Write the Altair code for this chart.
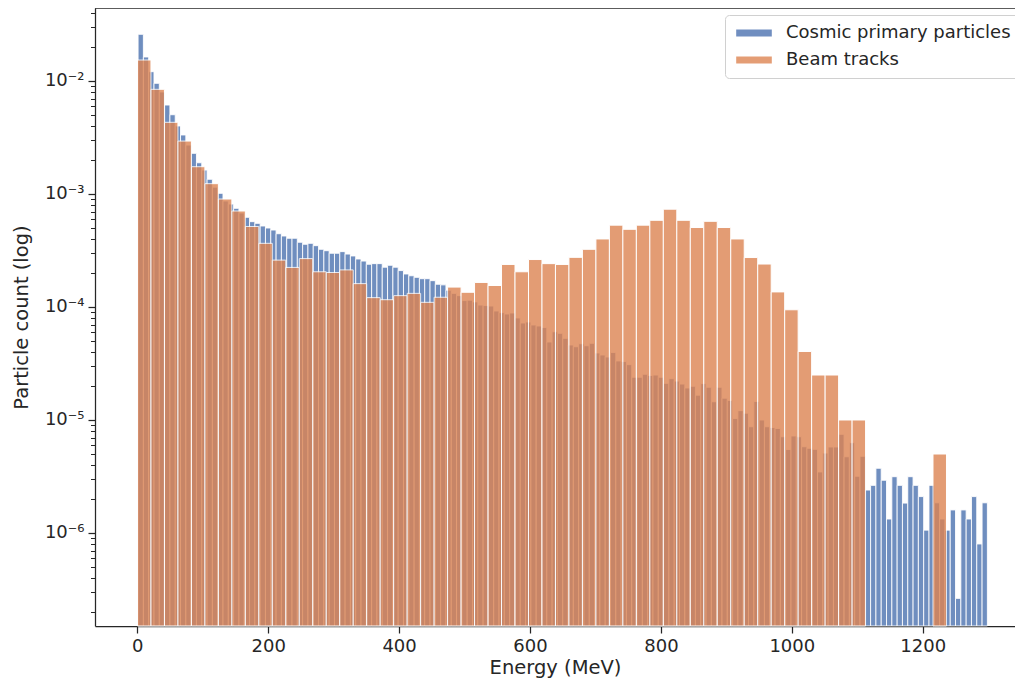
import altair as alt
import pandas as pd

SERIES = ["Cosmic primary particles", "Beam tracks"]
COLORS = ["#4C72B0", "#DD8452"]

# Histogram bins (MeV)
BLUE_START = 1.2
BLUE_WIDTH = 8.11
ORANGE_START = 0.3
ORANGE_WIDTH = 20.6

# Density per bin, cosmic primary particles (160 bins)
cosmic_density = [
    0.0259, 0.01631, 0.01209, 0.00954, 0.00799, 0.00613, 0.00503, 0.0040, 0.00333, 0.00271,
    0.00229, 0.00189, 0.00163, 0.00135, 0.00115, 0.001014, 8.67e-4, 8.15e-4, 7.47e-4, 6.79e-4,
    6.22e-4, 5.69e-4, 5.50e-4, 5.21e-4, 5.00e-4, 4.80e-4, 4.45e-4, 4.25e-4, 4.06e-4, 4.06e-4,
    3.74e-4, 3.59e-4, 3.66e-4, 3.49e-4, 3.24e-4, 3.15e-4, 2.99e-4, 2.99e-4, 3.09e-4, 2.94e-4,
    2.83e-4, 2.66e-4, 2.55e-4, 2.39e-4, 2.42e-4, 2.42e-4, 2.25e-4, 2.34e-4, 2.25e-4, 2.10e-4,
    1.96e-4, 1.89e-4, 1.83e-4, 1.78e-4, 1.78e-4, 1.71e-4, 1.59e-4, 1.57e-4, 1.41e-4, 1.32e-4,
    1.26e-4, 1.14e-4, 1.15e-4, 1.11e-4, 1.04e-4, 1.03e-4, 1.02e-4, 9.22e-5, 8.91e-5, 8.67e-5,
    8.85e-5, 8.00e-5, 7.22e-5, 7.37e-5, 6.93e-5, 6.79e-5, 6.58e-5, 4.90e-5, 6.04e-5, 5.85e-5,
    5.28e-5, 4.61e-5, 4.45e-5, 4.73e-5, 4.54e-5, 4.77e-5, 3.92e-5, 3.76e-5, 3.61e-5, 3.96e-5,
    3.33e-5, 3.29e-5, 3.09e-5, 2.39e-5, 2.39e-5, 2.54e-5, 2.48e-5, 2.50e-5, 2.39e-5, 2.11e-5,
    2.32e-5, 2.21e-5, 2.08e-5, 1.92e-5, 1.99e-5, 1.66e-5, 2.10e-5, 1.95e-5, 1.45e-5, 1.95e-5,
    1.56e-5, 1.49e-5, 1.03e-5, 1.21e-5, 1.15e-5, 8.72e-6, 1.46e-5, 1.00e-5, 8.72e-6, 8.58e-6,
    8.41e-6, 7.11e-6, 5.48e-6, 7.22e-6, 7.11e-6, 5.80e-6, 5.62e-6, 5.50e-6, 3.47e-6, 5.10e-6,
    5.77e-6, 5.77e-6, 7.47e-6, 4.73e-6, 6.30e-6, 3.18e-6, 4.77e-6, 2.40e-6, 2.64e-6, 3.74e-6,
    2.93e-6, 1.33e-6, 3.15e-6, 2.64e-6, 1.84e-6, 3.15e-6, 2.64e-6, 2.10e-6, 1.06e-6, 2.64e-6,
    1.85e-6, 1.33e-6, 1.06e-6, 1.60e-6, 2.64e-7, 1.60e-6, 1.33e-6, 2.10e-6, 8.0e-7, 1.85e-6,
]

# Density per bin, beam tracks (60 bins)
beam_density = [
    0.01534, 0.00844, 0.00431, 0.00294, 0.001744, 0.001234, 9.03e-4, 7.07e-4, 5.16e-4, 3.66e-4,
    2.60e-4, 2.24e-4, 2.68e-4, 2.05e-4, 2.02e-4, 2.13e-4, 1.61e-4, 1.21e-4, 1.16e-4, 1.26e-4,
    1.32e-4, 1.10e-4, 1.22e-4, 1.50e-4, 1.35e-4, 1.65e-4, 1.55e-4, 2.38e-4, 2.05e-4, 2.63e-4,
    2.42e-4, 2.38e-4, 2.75e-4, 3.24e-4, 4.00e-4, 5.30e-4, 4.87e-4, 5.30e-4, 5.85e-4, 7.34e-4,
    5.85e-4, 5.05e-4, 5.73e-4, 5.05e-4, 4.00e-4, 2.74e-4, 2.40e-4, 1.36e-4, 9.45e-5, 4.04e-5,
    2.50e-5, 2.50e-5, 1.00e-5, 1.00e-5, 0, 0, 0, 0, 0, 5.0e-6,
]

X_TICKS = [0, 200, 400, 600, 800, 1000, 1200]
Y_TICKS = [1e-6, 1e-5, 1e-4, 1e-3, 1e-2]
Y_TICK_LABELS = ["10⁻⁶", "10⁻⁵", "10⁻⁴", "10⁻³", "10⁻²"]
Y_MINOR = [m * 10.0 ** e for e in range(-7, -1) for m in range(2, 10)]


def bins(start, width, values, name):
    rows = []
    for i, v in enumerate(values):
        if v > 0:
            rows.append({"lo": start + i * width, "hi": start + (i + 1) * width,
                         "density": v, "series": name})
    return pd.DataFrame(rows)


df_cosmic = bins(BLUE_START, BLUE_WIDTH, cosmic_density, SERIES[0])
df_beam = bins(ORANGE_START, ORANGE_WIDTH, beam_density, SERIES[1])

W, H = 920, 618
FONT = "DejaVu Sans"
INK = "#262626"
ALPHA = 0.8

x_scale = alt.Scale(domain=[-64.6, 1341.0], nice=False, zero=False)
y_scale = alt.Scale(type="log", domain=[1.503e-7, 0.04426], nice=False)

x_axis = alt.Axis(values=X_TICKS, title="Energy (MeV)", format="d", grid=False,
                  tickSize=7, tickWidth=1.25, tickColor=INK, domainColor=INK,
                  domainWidth=1.25, labelFontSize=18, labelFont=FONT, labelColor=INK,
                  labelPadding=4, titleFontSize=19.5, titleFont=FONT, titleColor=INK,
                  titleFontWeight="normal", titleY=47, titleBaseline="alphabetic")

label_array = "[" + ",".join("'" + s + "'" for s in Y_TICK_LABELS) + "]"
y_major = alt.Axis(values=Y_TICKS, orient="left", title="Particle count (log)", grid=False,
                   labelExpr=label_array + "[round(log(datum.value)/LN10)+6]",
                   tickSize=7, tickWidth=1.25, tickColor=INK, domainColor=INK,
                   domainWidth=1.25, labelFontSize=18, labelFont=FONT, labelColor=INK,
                   labelPadding=4, titleFontSize=19.5, titleFont=FONT, titleColor=INK,
                   titleFontWeight="normal", titlePadding=13)
y_minor = alt.Axis(values=Y_MINOR, orient="left", title=None, labels=False, grid=False,
                   domain=False, tickSize=4.5, tickWidth=1, tickColor=INK)

color = alt.Color("series:N", scale=alt.Scale(domain=SERIES, range=COLORS),
                  legend=alt.Legend(title=None, orient="none", legendX=630, legendY=7,
                                    symbolType="M-2,-0.4H2V0.4H-2Z", symbolSize=317,
                                    symbolOpacity=ALPHA, symbolStrokeWidth=0,
                                    symbolOffset=11,
                                    labelFontSize=18, labelFont=FONT, labelColor=INK,
                                    labelLimit=0, labelOffset=23, rowPadding=9,
                                    padding=9, strokeColor="#d0d0d0", fillColor="white",
                                    cornerRadius=4))

cosmic = alt.Chart(df_cosmic).mark_bar(stroke="white", strokeWidth=0.9, opacity=ALPHA).encode(
    x=alt.X("lo:Q", scale=x_scale, axis=x_axis),
    x2="hi:Q",
    y=alt.Y("density:Q", scale=y_scale, axis=y_major),
    y2=alt.value(H),
    color=color,
)

beam = alt.Chart(df_beam).mark_bar(stroke="white", strokeWidth=1.0, opacity=ALPHA).encode(
    x=alt.X("lo:Q", scale=x_scale, axis=x_axis),
    x2="hi:Q",
    y=alt.Y("density:Q", scale=y_scale, axis=y_minor),
    y2=alt.value(H),
    color=color,
)

top_spine = alt.Chart(pd.DataFrame({"k": [0]})).mark_rule(color=INK, strokeWidth=1.25).encode(
    x=alt.value(0), x2=alt.value(W), y=alt.value(0)
)

chart = alt.layer(cosmic, beam, top_spine).resolve_axis(y="independent").properties(
    width=W, height=H,
    autosize=alt.AutoSizeParams(type="none"),
    padding={"left": 87, "top": 0, "right": 0, "bottom": 52},
    background="white",
).configure_view(stroke=None)

chart.save("out.html", embed_options={"renderer": "svg", "actions": False})
